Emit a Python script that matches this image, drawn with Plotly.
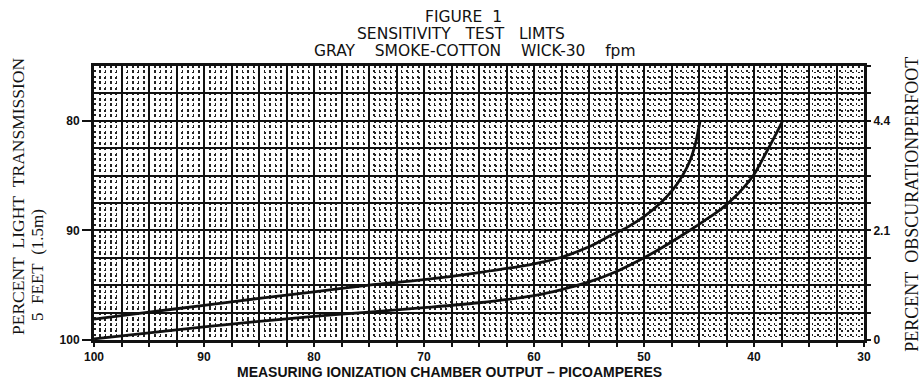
import numpy as np
import plotly.graph_objects as go

# Chamber output (picoamperes) vs. percent light transmission over 5 ft
upper_x = [100, 95, 90, 85, 80, 75, 70, 65, 60, 57.5, 55, 53, 51.5, 50, 48.5, 47.5, 46.5, 45.8, 45.3, 44.9]
upper_y = [98.1, 97.45, 96.85, 96.2, 95.6, 95.0, 94.5, 93.85, 93.05, 92.45, 91.5, 90.45, 89.7, 88.75, 87.5, 86.45, 85.0, 83.6, 82.0, 80.0]

lower_x = [100, 95, 90, 85, 80, 75, 70, 65, 60, 57.5, 55, 52.5, 50, 48, 46, 44.5, 43, 41.5, 40, 39, 38.1, 37.4]
lower_y = [99.9, 99.35, 98.8, 98.3, 97.85, 97.45, 97.05, 96.6, 95.95, 95.4, 94.7, 93.75, 92.5, 91.35, 90.1, 89.1, 88.05, 86.7, 84.9, 83.1, 81.4, 80.0]

x_ticks = [100, 90, 80, 70, 60, 50, 40, 30]
transmission_ticks = [80, 90, 100]
obscuration_labels = ["4.4", "2.1", "0"]

X_RANGE = [100, 30]
Y_RANGE = [100, 75]
MAJOR = 2.5
MINOR = 0.5

INK = "#111111"
DOT = "#222222"
SANS = "Liberation Sans, Arial, sans-serif"
HEAD = "DejaVu Sans, Verdana, sans-serif"
SERIF = "Liberation Serif, Times New Roman, serif"
NB = "\u00a0"


def spaced(words, gap):
    return (NB * gap).join(words)


fig = go.Figure()
# the two limit curves; the second one is plotted against the right-hand
# axis, which shares the same range so both scales line up exactly
for xs, ys, yax in [(upper_x, upper_y, "y"), (lower_x, lower_y, "y2")]:
    fig.add_trace(go.Scatter(
        x=xs, y=ys, mode="lines", yaxis=yax,
        line=dict(color=INK, width=2.8, shape="spline", smoothing=0.8),
        showlegend=False, hoverinfo="skip",
    ))

# bottom axis: heavy grid every 2.5, dotted sub-grid every 0.5, labels every 10
x_major = list(np.arange(30, 100.01, MAJOR))
x_text = [str(int(v)) if int(round(v * 10)) % 100 == 0 else "" for v in x_major]

fig.update_xaxes(
    range=X_RANGE,
    tickmode="array", tickvals=x_major, ticktext=x_text,
    ticks="outside", ticklen=4, tickwidth=1.5, tickcolor=INK,
    tickfont=dict(family=SANS, size=12, color=INK, weight="bold"),
    showgrid=True, gridcolor=INK, gridwidth=1.5,
    minor=dict(tickmode="linear", tick0=30, dtick=MINOR, showgrid=True,
               gridcolor=DOT, gridwidth=1.5, griddash="1.5px,4px"),
    showline=True, linecolor=INK, linewidth=3, mirror=True,
    zeroline=False,
)

# left axis: percent light transmission
fig.update_yaxes(
    range=Y_RANGE,
    tickmode="array", tickvals=transmission_ticks,
    ticktext=[str(v) for v in transmission_ticks],
    ticks="outside", ticklen=9, tickwidth=1.8, tickcolor=INK,
    tickfont=dict(family=SANS, size=12, color=INK, weight="bold"),
    showgrid=False,
    showline=True, linecolor=INK, linewidth=3, mirror=True,
    zeroline=False,
)

# right axis: percent obscuration per foot, carries the horizontal grid
y_major = list(np.arange(75, 100.01, MAJOR))
y_text = []
for v in y_major:
    lbl = ""
    for t, s in zip(transmission_ticks, obscuration_labels):
        if abs(v - t) < 1e-9:
            lbl = s
    y_text.append(lbl)

fig.update_layout(
    yaxis2=dict(
        overlaying="y", side="right", range=Y_RANGE,
        tickmode="array", tickvals=y_major, ticktext=y_text,
        ticks="outside", ticklen=6, tickwidth=1.5, tickcolor=INK,
        tickfont=dict(family=SANS, size=12, color=INK, weight="bold"),
        showgrid=True, gridcolor=INK, gridwidth=1.5,
        minor=dict(tickmode="linear", tick0=75, dtick=MINOR, showgrid=True,
                   gridcolor=DOT, gridwidth=1.5, griddash="1.5px,3.98px"),
        showline=False, zeroline=False,
    )
)

annotations = [
    # heading
    dict(text=spaced(["FIGURE", "1"], 2), x=0.4805, y=1.179),
    dict(text=spaced(["SENSITIVITY", "TEST", "LIMTS"], 3), x=0.4766, y=1.115),
    dict(text=spaced(["GRAY", "SMOKE-COTTON", "WICK-30", "fpm"], 4), x=0.495, y=1.055),
]
for a in annotations:
    a.update(xref="paper", yref="paper", showarrow=False,
             font=dict(family=HEAD, size=15.5, color=INK),
             xanchor="center", yanchor="middle")

annotations += [
    dict(text=spaced(["MEASURING", "IONIZATION", "CHAMBER", "OUTPUT", "–", "PICOAMPERES"], 1),
         x=0.462, y=-0.117, xref="paper", yref="paper", showarrow=False,
         font=dict(family=SANS, size=14, color=INK, weight="bold"),
         xanchor="center", yanchor="middle"),
    dict(text=spaced(["PERCENT", "LIGHT", "TRANSMISSION"], 2),
         x=-0.0987, y=0.522, xref="paper", yref="paper", showarrow=False,
         textangle=-90, font=dict(family=SERIF, size=17.5, color=INK),
         xanchor="center", yanchor="middle"),
    dict(text=spaced(["5", "FEET", "(1.5m)"], 2),
         x=-0.0727, y=0.274, xref="paper", yref="paper", showarrow=False,
         textangle=-90, font=dict(family=SERIF, size=17, color=INK),
         xanchor="center", yanchor="middle"),
    dict(text=spaced(["PERCENT", "OBSCURATIONPERFOOT"], 2),
         x=1.062, y=0.496, xref="paper", yref="paper", showarrow=False,
         textangle=-90, font=dict(family=SERIF, size=18, color=INK),
         xanchor="center", yanchor="middle"),
]

fig.update_layout(
    width=921, height=382,
    margin=dict(l=94, r=57, t=66, b=42),
    paper_bgcolor="white", plot_bgcolor="white",
    annotations=annotations,
    showlegend=False,
)

fig.write_html("out.html")
